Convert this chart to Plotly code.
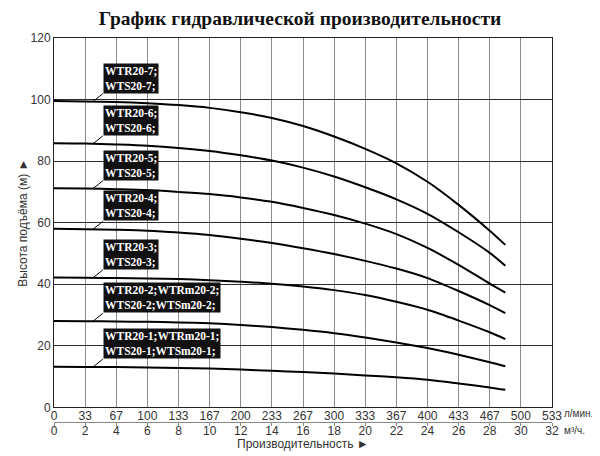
import numpy as np

import plotly.graph_objects as go


# flow points in m3/h where the curves were read
flow_m3h = [0, 2, 4, 6, 8, 10, 12, 14, 16, 18, 20, 22, 24, 26, 28, 29]

# head (m) for each pump model
head_7 = [99.5, 99.4, 99.2, 98.8, 98.2, 97.3, 95.9, 94.0, 91.4, 88.0, 84.0, 79.3, 73.3, 65.8, 57.4, 52.8]
head_6 = [85.8, 85.7, 85.4, 85.0, 84.3, 83.3, 81.9, 80.2, 77.9, 75.0, 71.5, 67.6, 62.9, 56.9, 50.2, 46.0]
head_5 = [71.2, 71.1, 70.9, 70.6, 70.0, 69.3, 68.2, 66.8, 64.8, 62.5, 59.7, 56.3, 51.8, 46.3, 40.2, 37.3]
head_4 = [58.0, 57.9, 57.7, 57.4, 56.8, 56.0, 54.8, 53.4, 51.7, 49.8, 47.6, 45.1, 42.0, 37.8, 33.2, 30.6]
head_3 = [42.2, 42.1, 42.0, 41.9, 41.7, 41.3, 40.8, 40.2, 39.3, 38.1, 36.5, 34.3, 31.7, 28.2, 24.4, 22.2]
head_2 = [28.1, 28.0, 27.9, 27.8, 27.6, 27.3, 26.8, 26.1, 25.2, 24.1, 22.7, 21.1, 19.3, 17.1, 14.7, 13.4]
head_1 = [13.2, 13.1, 13.1, 13.0, 12.8, 12.6, 12.3, 11.9, 11.5, 11.0, 10.4, 9.8, 9.0, 7.8, 6.5, 5.7]

labels = [
    "WTR20-7;<br>WTS20-7;",
    "WTR20-6;<br>WTS20-6;",
    "WTR20-5;<br>WTS20-5;",
    "WTR20-4;<br>WTS20-4;",
    "WTR20-3;<br>WTS20-3;",
    "WTR20-2;WTRm20-2;<br>WTS20-2;WTSm20-2;",
    "WTR20-1;WTRm20-1;<br>WTS20-1;WTSm20-1;",
]

m3h_ticks = list(range(0, 33, 2))
lmin_ticktext = ["0", "33", "67", "100", "133", "167", "200", "233", "267", "300",
                 "333", "367", "400", "433", "467", "500", "533"]
m3h_ticktext = [str(v) for v in m3h_ticks]

curves = [head_7, head_6, head_5, head_4, head_3, head_2, head_1]
label_flow = 2.5

fig = go.Figure()

for head in curves:
    fig.add_trace(go.Scatter(
        x=flow_m3h, y=head, mode="lines",
        line=dict(color="black", width=2, shape="spline", smoothing=0.8),
        showlegend=False, hoverinfo="skip",
    ))

# invisible trace so the second (m3/h) axis gets drawn
fig.add_trace(go.Scatter(
    x=flow_m3h, y=head_1, xaxis="x2", mode="lines",
    line=dict(width=0), opacity=0, showlegend=False, hoverinfo="skip",
))

for head, text in zip(curves, labels):
    fig.add_annotation(
        x=label_flow, y=float(np.interp(label_flow, flow_m3h, head)),
        text=text, showarrow=True, arrowhead=0, arrowwidth=1, arrowcolor="black",
        ax=10, ay=-8, xanchor="left", yanchor="bottom", align="left",
        bgcolor="#111111", borderpad=1,
        font=dict(family="Liberation Serif", size=11.5, color="white", weight="bold"),
    )

fig.add_annotation(x=1.02, y=0.022, xref="paper", yref="paper", text="л/мин.",
                   showarrow=False, xanchor="left", yanchor="middle",
                   font=dict(family="Liberation Sans", size=10, color="#333"))
fig.add_annotation(x=1.02, y=-0.021, xref="paper", yref="paper", text="м³/ч.",
                   showarrow=False, xanchor="left", yanchor="middle",
                   font=dict(family="Liberation Sans", size=10, color="#333"))
fig.add_annotation(x=0.5, y=-0.056, xref="paper", yref="paper",
                   text="Производительность ►", showarrow=False,
                   xanchor="center", yanchor="middle",
                   font=dict(family="Liberation Sans", size=12, color="#333"))

# page body keeps an 8px margin, so the figure is 8px smaller each way
fig.update_layout(
    width=592, height=448,
    margin=dict(l=46, r=48, t=30, b=34),
    plot_bgcolor="white", paper_bgcolor="white",
    font=dict(family="Liberation Sans", size=12, color="#333"),
    title=dict(text="График гидравлической производительности",
               x=(300 - 8) / 592, xref="container", y=1 - 10 / 448, yanchor="middle",
               font=dict(family="Liberation Serif", size=19.5, color="#111", weight="bold")),
    xaxis=dict(range=[0, 32], tickvals=m3h_ticks, ticktext=lmin_ticktext,
               showgrid=True, gridcolor="#8c8c8c", gridwidth=1, zeroline=False,
               showline=True, linecolor="#222", mirror=True, ticks="",
               automargin=False, ticklabelstandoff=-3,
               tickfont=dict(size=12, color="#333")),
    xaxis2=dict(overlaying="x", anchor="free", position=0, side="bottom",
                range=[0, 32], tickvals=m3h_ticks, ticktext=m3h_ticktext,
                showgrid=False, zeroline=False, showline=True, linecolor="#888",
                ticks="outside", ticklen=3, tickcolor="#888", automargin=False,
                ticklabelstandoff=-5,
                tickfont=dict(size=12, color="#333")),
    yaxis=dict(range=[0, 120], dtick=20, domain=[0.038, 1],
               showgrid=True, gridcolor="#2b2b2b", gridwidth=1, zeroline=False,
               showline=True, linecolor="#222", mirror=True, ticks="",
               automargin=False, tickfont=dict(size=12, color="#333"),
               title=dict(text="Высота подъёма (м) ►", standoff=0,
                          font=dict(size=12, color="#333"))),
)

fig.write_html("out.html")
